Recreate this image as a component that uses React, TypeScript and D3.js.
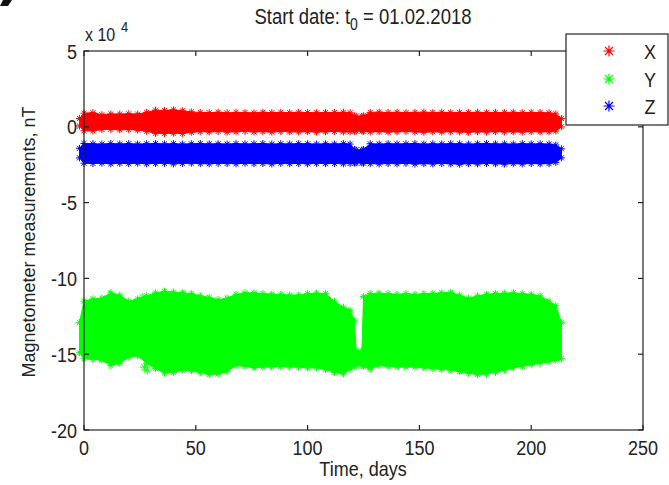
import React from "react";
import * as d3 from "d3";

// Sample times (days since t0) at which the envelopes of each component were traced
const days = [
  -2, 0,
  4, 8, 12, 16, 20, 24, 28, 32, 36, 40, 44, 48, 52, 56, 60, 64, 68, 72, 76, 80, 84, 88, 92, 96, 100, 104, 108, 112, 116,
  119, 121, 121.7, 124.3, 125,
  128, 132, 136, 140, 144, 148, 152, 156, 160, 164, 168, 172, 176, 180, 184, 188, 192, 196, 200, 204, 208,
  211, 213.5,
];

// Upper / lower envelope of each component, in units of 10^4 nT
const xUpper = [
  0.55, 0.9,
  0.93, 0.8, 0.85, 0.84, 0.86, 0.84, 0.95, 1.1, 1.08, 1.12, 1.06, 0.98, 0.95, 0.93, 0.96, 0.92, 0.95, 0.94, 0.92, 0.96, 0.93, 0.95, 0.93, 0.96, 0.94, 0.93, 0.95, 0.94, 0.96,
  0.93, 0.72, 0.7, 0.7, 0.72,
  0.95, 0.97, 0.94, 0.96, 0.93, 0.95, 0.97, 0.94, 0.96, 0.93, 0.95, 0.94, 0.96, 0.93, 0.95, 0.94, 0.96, 0.93, 0.95, 0.94, 0.92,
  0.85, 0.55,
];
const xLower = [
  0.05, -0.26,
  -0.27, -0.18, -0.17, -0.2, -0.18, -0.22, -0.3, -0.43, -0.45, -0.42, -0.44, -0.36, -0.32, -0.34, -0.31, -0.35, -0.33, -0.3, -0.34, -0.32, -0.35, -0.31, -0.33, -0.34, -0.32, -0.35, -0.33, -0.31, -0.34,
  -0.33, -0.3, -0.28, -0.28, -0.3,
  -0.34, -0.32, -0.35, -0.33, -0.31, -0.34, -0.36, -0.33, -0.35, -0.32, -0.34, -0.36, -0.33, -0.35, -0.32, -0.34, -0.33, -0.35, -0.32, -0.34, -0.33,
  -0.28, 0.0,
];
const yUpper = [
  -12.9, -11.5,
  -11.35, -11.3, -10.95, -11.1, -11.5, -11.35, -11.15, -10.95, -10.85, -10.9, -10.95, -11.0, -11.15, -11.25, -11.4, -11.3, -11.05, -10.95, -10.95, -11.0, -11.03, -11.05, -11.1, -11.1, -11.0, -10.97, -11.0, -11.5, -11.9,
  -12.1, -12.8, -14.75, -14.75, -11.2,
  -11.0, -10.97, -11.0, -11.05, -11.0, -11.05, -11.0, -10.98, -10.95, -10.92, -11.1, -11.3, -11.15, -11.05, -11.0, -10.97, -10.95, -11.0, -11.05, -11.15, -11.5,
  -11.8, -12.9,
];
const yLower = [
  -14.9, -15.3,
  -15.35, -15.4, -15.75, -15.6, -15.2, -15.1, -15.6, -15.95, -16.25, -16.2, -16.05, -16.1, -16.2, -16.35, -16.3, -16.15, -15.75, -15.8, -15.9, -15.85, -15.85, -15.8, -15.85, -15.85, -15.9, -15.9, -16.0, -16.2, -16.3,
  -16.0, -15.8, -15.75, -15.75, -15.8,
  -16.0, -15.75, -15.8, -15.85, -15.85, -15.85, -15.9, -15.95, -16.0, -16.05, -16.15, -16.25, -16.35, -16.3, -16.2, -16.05, -15.9, -15.8, -15.7, -15.6, -15.5,
  -15.4, -15.3,
];
const zUpper = [
  -1.42, -1.1,
  -1.12, -1.14, -1.1, -1.13, -1.11, -1.14, -1.12, -1.1, -1.13, -1.11, -1.14, -1.12, -1.1, -1.13, -1.12, -1.14, -1.11, -1.13, -1.12, -1.1, -1.14, -1.12, -1.13, -1.11, -1.12, -1.14, -1.12, -1.13, -1.11,
  -1.14, -1.5, -1.53, -1.53, -1.5,
  -1.12, -1.14, -1.11, -1.13, -1.12, -1.1, -1.14, -1.12, -1.13, -1.11, -1.12, -1.14, -1.12, -1.1, -1.13, -1.12, -1.14, -1.11, -1.13, -1.12, -1.14,
  -1.2, -1.45,
];
const zLower = [
  -2.05, -2.4,
  -2.42, -2.4, -2.44, -2.41, -2.43, -2.4, -2.44, -2.42, -2.41, -2.45, -2.42, -2.4, -2.43, -2.44, -2.41, -2.42, -2.44, -2.4, -2.43, -2.42, -2.45, -2.41, -2.43, -2.42, -2.44, -2.41, -2.43, -2.42, -2.44,
  -2.42, -2.4, -2.38, -2.38, -2.4,
  -2.43, -2.45, -2.42, -2.44, -2.41, -2.46, -2.43, -2.45, -2.42, -2.44, -2.47, -2.43, -2.45, -2.42, -2.44, -2.46, -2.43, -2.45, -2.42, -2.44, -2.43,
  -2.35, -2.05,
];

// Isolated Y readings outside the dense band during the first month
const yOutlierDays = [1.5, 5, 14, 17, 22, 26.3, 25.5, 27, 28.3];
const yOutlierValues = [-11.7, -11.6, -12.3, -11.9, -12.4, -11.25, -14.9, -15.85, -16.05];

const seriesNames = ["X", "Y", "Z"];
const seriesColors = ["#ff0000", "#00ff00", "#0000ff"];

const xTicks = [0, 50, 100, 150, 200, 250];
const yTicks = [5, 0, -5, -10, -15, -20];

const W = 669;
const H = 485;
const plot = { left: 84, right: 643, top: 51, bottom: 430 };
const FONT = "'Liberation Sans', Arial, Helvetica, sans-serif";
const FS = 18;
const STRETCH = 1.15;

const asterisk = (r: number) => {
  const d = r * 0.72;
  return `M${-r},0H${r}M0,${-r}V${r}M${-d},${-d}L${d},${d}M${-d},${d}L${d},${-d}`;
};

// Text drawn slightly taller than wide, anchored at its baseline point
function Label(props: {
  x: number;
  y: number;
  anchor?: "start" | "middle" | "end";
  size?: number;
  children: React.ReactNode;
}) {
  return (
    <text
      transform={`translate(${props.x},${props.y}) scale(1,${STRETCH})`}
      textAnchor={props.anchor || "start"}
      fontSize={props.size || FS}
      fill="#222"
    >
      {props.children}
    </text>
  );
}

export default function App() {
  const x = d3.scaleLinear().domain([0, 250]).range([plot.left, plot.right]);
  const y = d3.scaleLinear().domain([-20, 5]).range([plot.bottom, plot.top]);

  const bands = [
    { upper: xUpper, lower: xLower },
    { upper: yUpper, lower: yLower },
    { upper: zUpper, lower: zLower },
  ];

  const bandPath = (upper: number[], lower: number[]) =>
    d3
      .area<number>()
      .x((t) => x(t))
      .y0((_, i) => y(lower[i]))
      .y1((_, i) => y(upper[i]))(days) || "";

  const star = asterisk(3.5);
  const legendStar = asterisk(5.5);
  const tickLen = 5;

  const legend = { x0: 566, y0: 34, x1: 668, y1: 125 };
  const legendRows = [51, 79, 106];

  return (
    <svg
      width={W}
      height={H}
      style={{ position: "absolute", left: 0, top: 0, background: "#fff" }}
      fontFamily={FONT}
    >
      <rect x={0} y={0} width={W} height={H} fill="#fff" />
      <path d="M3,0L12,0L8,6L0,6Z" fill="#111" />

      {/* data bands, drawn X, Y, Z */}
      {bands.map((b, si) => (
        <g key={seriesNames[si]} fill={seriesColors[si]} stroke={seriesColors[si]}>
          <path d={bandPath(b.upper, b.lower)} strokeWidth={1} />
          {days.map((t, i) => (
            <g key={i}>
              <path d={star} transform={`translate(${x(t)},${y(b.upper[i])})`} fill="none" strokeWidth={1} />
              <path d={star} transform={`translate(${x(t)},${y(b.lower[i])})`} fill="none" strokeWidth={1} />
            </g>
          ))}
        </g>
      ))}
      <g stroke={seriesColors[1]} fill="none" strokeWidth={1}>
        {yOutlierDays.map((t, i) => (
          <path key={i} d={asterisk(4.5)} transform={`translate(${x(t)},${y(yOutlierValues[i])})`} />
        ))}
      </g>

      {/* axes box and inward ticks */}
      <rect
        x={plot.left}
        y={plot.top}
        width={plot.right - plot.left}
        height={plot.bottom - plot.top}
        fill="none"
        stroke="#222"
        strokeWidth={1.2}
      />
      <g stroke="#222" strokeWidth={1.2}>
        {xTicks.map((t) => (
          <g key={t}>
            <line x1={x(t)} x2={x(t)} y1={plot.bottom} y2={plot.bottom - tickLen} />
            <line x1={x(t)} x2={x(t)} y1={plot.top} y2={plot.top + tickLen} />
          </g>
        ))}
        {yTicks.map((v) => (
          <g key={v}>
            <line x1={plot.left} x2={plot.left + tickLen} y1={y(v)} y2={y(v)} />
            <line x1={plot.right} x2={plot.right - tickLen} y1={y(v)} y2={y(v)} />
          </g>
        ))}
      </g>

      {xTicks.map((t) => (
        <Label key={t} x={x(t)} y={455} anchor="middle">
          {t}
        </Label>
      ))}
      {yTicks.map((v) => (
        <Label key={v} x={77} y={y(v) + 7.5} anchor="end">
          {v}
        </Label>
      ))}
      <Label x={85} y={41} size={16}>
        x 10
      </Label>
      <Label x={121} y={32} size={13}>
        4
      </Label>
      <Label x={363} y={24} anchor="middle" size={18.5}>
        Start date: t
        <tspan fontSize={14} dy={5}>
          0
        </tspan>
        <tspan dy={-5}> = 01.02.2018</tspan>
      </Label>
      <Label x={363} y={476} anchor="middle">
        Time, days
      </Label>
      <text transform="translate(35,242) rotate(-90)" textAnchor="middle" fontSize={FS} fill="#222">
        Magnetometer measurements, nT
      </text>

      {/* legend */}
      <rect
        x={legend.x0}
        y={legend.y0}
        width={legend.x1 - legend.x0}
        height={legend.y1 - legend.y0}
        fill="#fff"
        stroke="#222"
        strokeWidth={1.2}
      />
      {seriesNames.map((n, i) => (
        <g key={n}>
          <path
            d={legendStar}
            transform={`translate(609,${legendRows[i]})`}
            stroke={seriesColors[i]}
            fill="none"
            strokeWidth={1.2}
          />
          <Label x={650} y={legendRows[i] + 7.5} anchor="middle">
            {n}
          </Label>
        </g>
      ))}
    </svg>
  );
}
